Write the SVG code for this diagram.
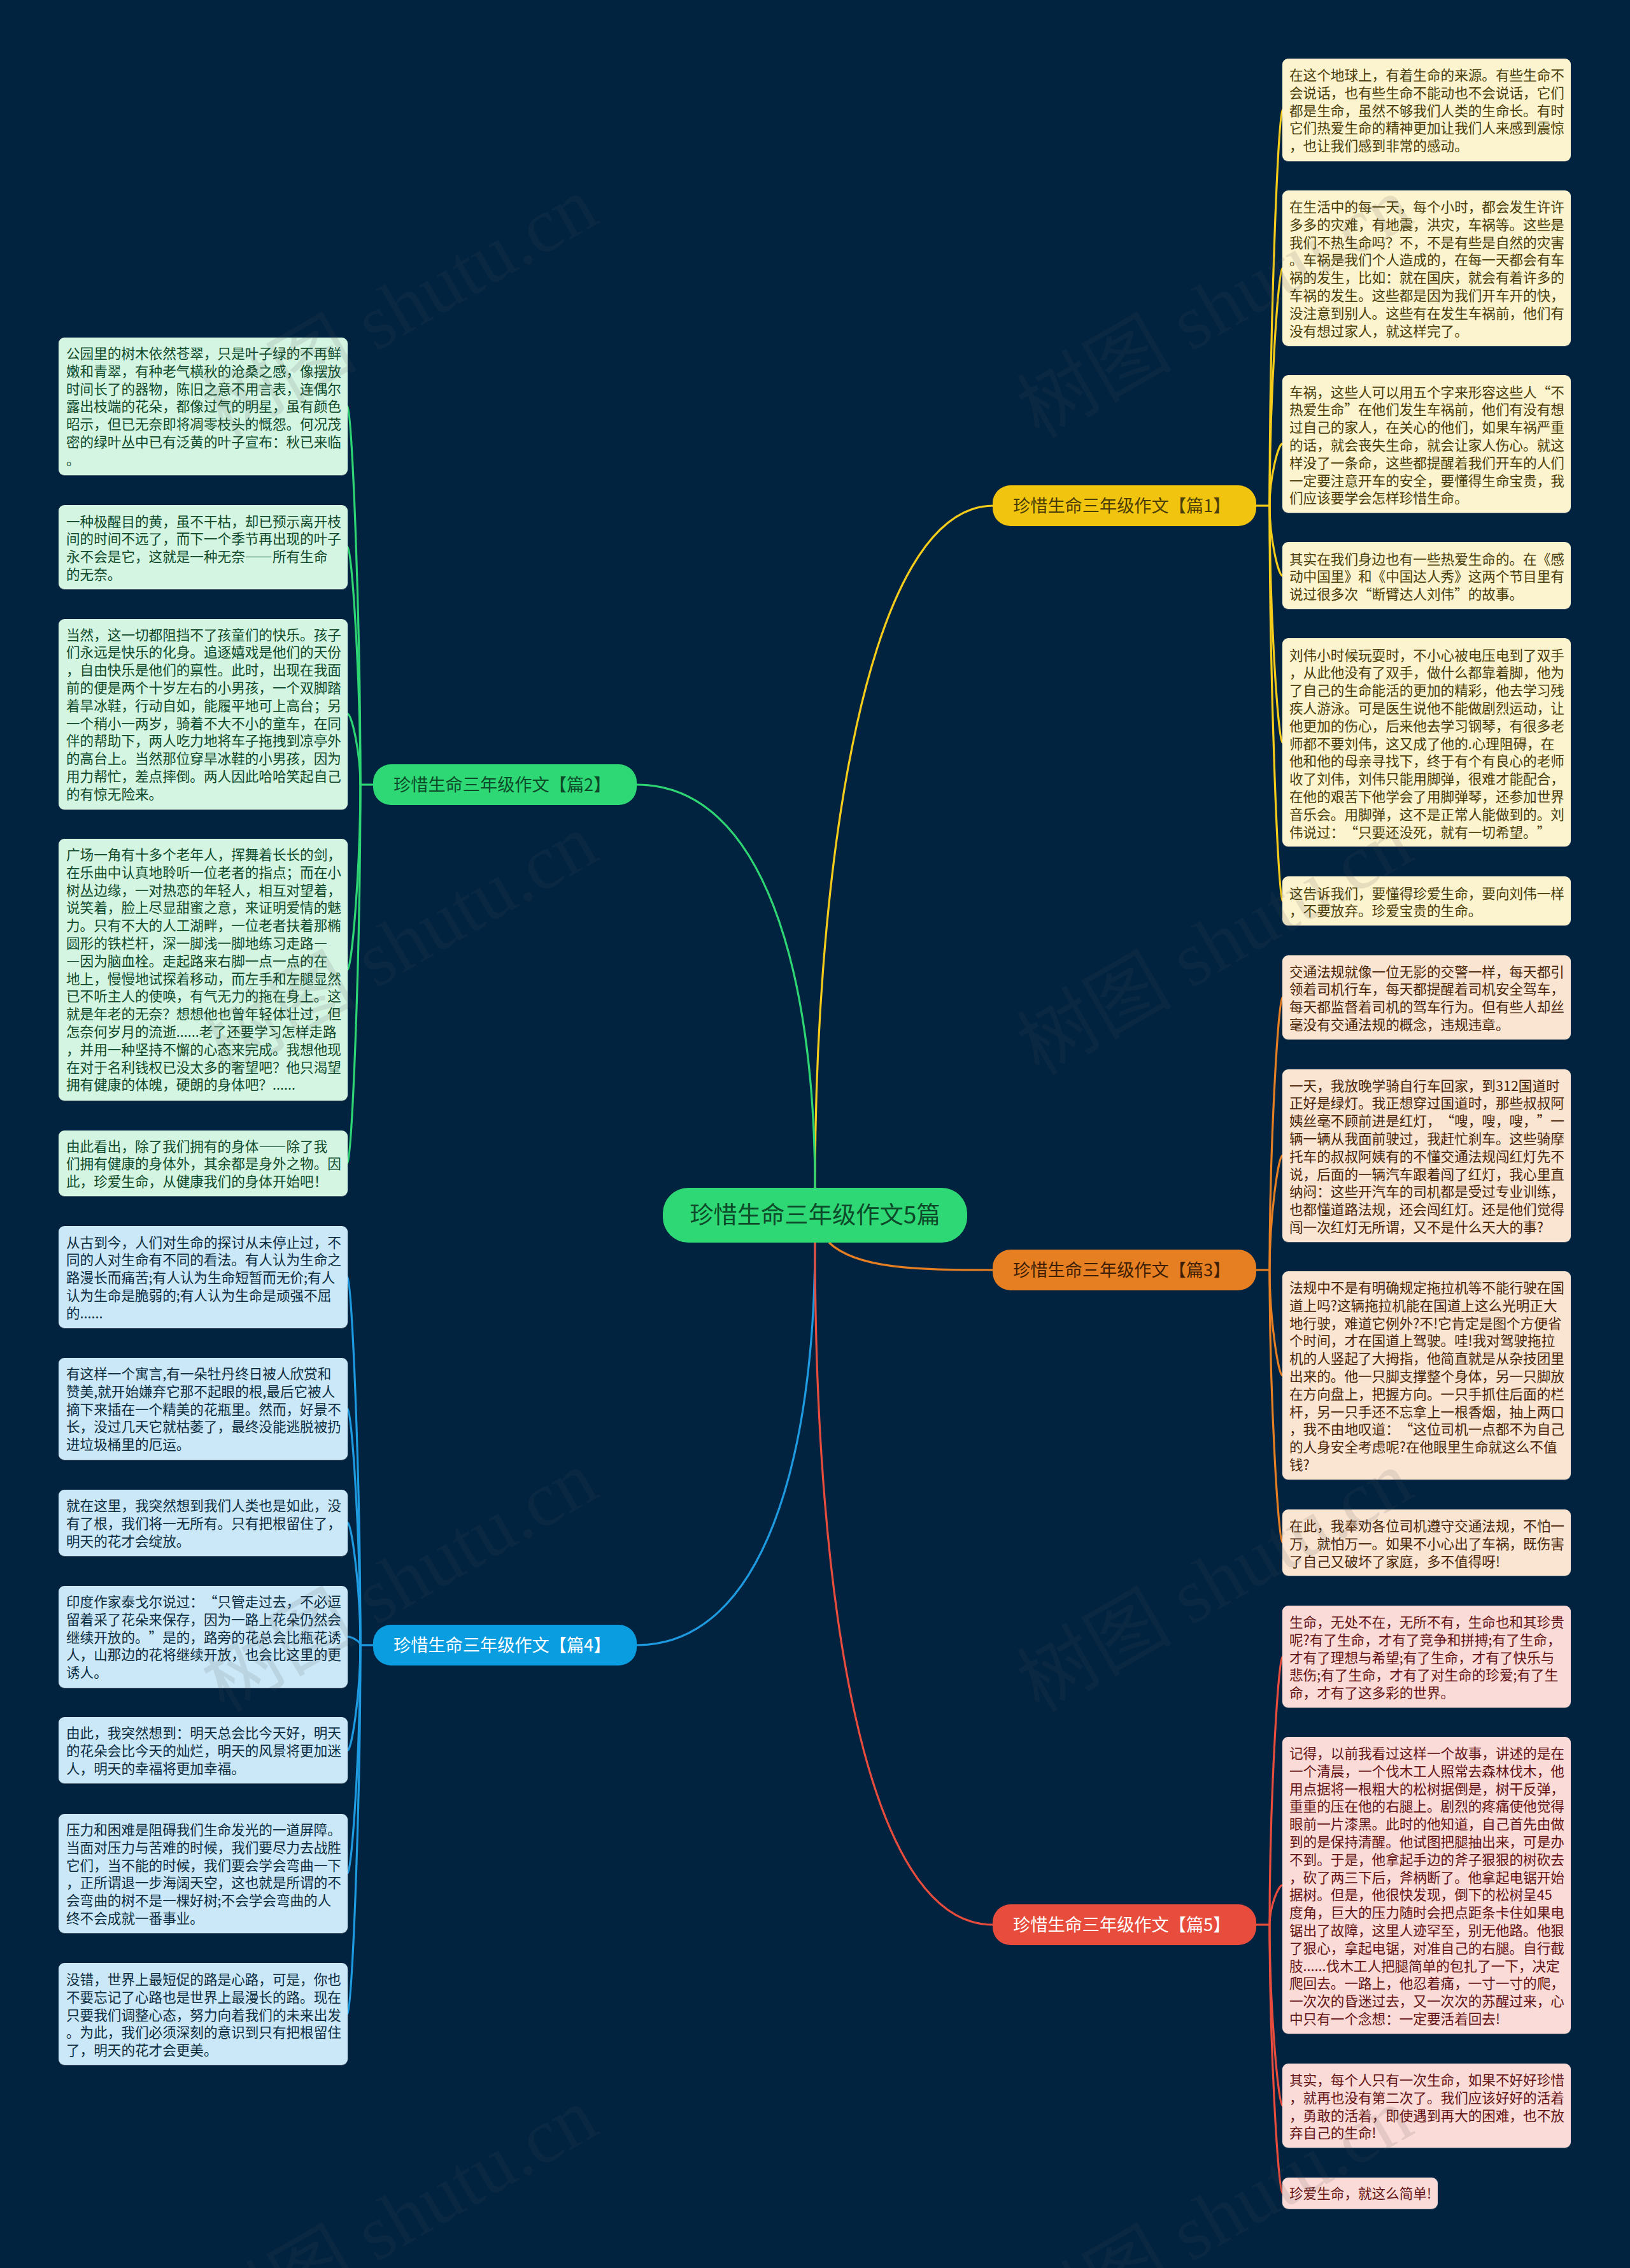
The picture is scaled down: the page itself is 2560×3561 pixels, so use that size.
<svg xmlns="http://www.w3.org/2000/svg" width="2560" height="3561" viewBox="0 0 2560 3561" lang="zh-CN">
<style>
text{font-family:"Noto Sans CJK SC","Noto Sans",sans-serif;text-spacing-trim:space-all;text-autospace:no-autospace}
.leaf text{font-size:21.6px}
.leaf rect{filter:drop-shadow(0 1.5px 0 rgba(140,140,140,.55))}
.y rect{fill:#fcf3cf}.y text{fill:#4a3d08}
.o rect{fill:#fae5d3}.o text{fill:#4a2508}
.g rect{fill:#d5f5e3}.g text{fill:#0f4a2a}
.b rect{fill:#cbe8f8}.b text{fill:#0c2c40}
.r rect{fill:#fadbd8}.r text{fill:#641414}
.branch text{font-size:27.2px}
.con path{fill:none;stroke-width:3.2}
.wm text{font-family:"Liberation Serif","Noto Sans CJK SC",serif;font-size:122px;fill:#505050;fill-opacity:.13}
</style>
<rect id="background" width="2560" height="3561" fill="#012340"/>
<g id="connectors" class="con">
<g stroke="#f5cc1a">
<path d="M1280 1865C1280 1362 1360 794 1560 794"/>
<path d="M1973 794H1994"/>
<path d="M1994 794C1994 502 2008 172.7 2014 172.7"/>
<path d="M1994 794C1994 619 2008 421 2014 421"/>
<path d="M1994 794C1994 748 2008 696.7 2014 696.7"/>
<path d="M1994 794C1994 846 2008 903.9 2014 903.9"/>
<path d="M1994 794C1994 969 2008 1165.9 2014 1165.9"/>
<path d="M1994 794C1994 1086 2008 1414.5 2014 1414.5"/>
</g>
<g stroke="#2ed573">
<path d="M1280 1865C1280 1530 1200 1232 1000 1232"/>
<path d="M586 1232H566"/>
<path d="M566 1232C566 953 552 638 546 638"/>
<path d="M566 1232C566 1056 552 858.5 546 858.5"/>
<path d="M566 1232C566 1180 552 1121 546 1121"/>
<path d="M566 1232C566 1368.5 552 1522.4 546 1522.4"/>
<path d="M566 1232C566 1511 552 1826 546 1826"/>
</g>
<g stroke="#e67e22">
<path d="M1302 1951C1345 1992 1440 1994 1559 1994"/>
<path d="M1973 1994H1994"/>
<path d="M1994 1994C1994 1793 2008 1565.8 2014 1565.8"/>
<path d="M1994 1994C1994 1909.5 2008 1814.2 2014 1814.2"/>
<path d="M1994 1994C1994 2072 2008 2159.8 2014 2159.8"/>
<path d="M1994 1994C1994 2195 2008 2422 2014 2422"/>
</g>
<g stroke="#1e9be0">
<path d="M1280 1951C1280 2286 1200 2583 1000 2583"/>
<path d="M586 2583H566"/>
<path d="M566 2583C566 2311 552 2005 546 2005"/>
<path d="M566 2583C566 2408.5 552 2211.8 546 2211.8"/>
<path d="M566 2583C566 2493 552 2390.8 546 2390.8"/>
<path d="M566 2583C566 2577 552 2569.8 546 2569.8"/>
<path d="M566 2583C566 2661 552 2748.4 546 2748.4"/>
<path d="M566 2583C566 2751.5 552 2941.5 546 2941.5"/>
<path d="M566 2583C566 2855 552 3162 546 3162"/>
</g>
<g stroke="#e74c3c">
<path d="M1280 1951C1280 2519 1359 3022 1559 3022"/>
<path d="M1973 3022H1994"/>
<path d="M1994 3022C1994 2824 2008 2601 2014 2601"/>
<path d="M1994 3022C1994 2993 2008 2960 2014 2960"/>
<path d="M1994 3022C1994 3155 2008 3306 2014 3306"/>
<path d="M1994 3022C1994 3220 2008 3443.5 2014 3443.5"/>
</g>
</g>
<g id="center"><rect x="1041" y="1865" width="478" height="86" rx="40" fill="#2ed975"/><text x="1280" y="1921" text-anchor="middle" font-size="37.3" fill="#0d4a2a">珍惜生命三年级作文5篇</text></g>
<g id="branch1" class="branch"><rect x="1559" y="762" width="414" height="64" rx="28" fill="#f1c40f"/><text x="1591" y="804" fill="#4a3d08">珍惜生命三年级作文【篇1】</text></g>
<g id="branch2" class="branch"><rect x="586" y="1200" width="414" height="64" rx="28" fill="#2ed975"/><text x="618" y="1242" fill="#0d4a2a">珍惜生命三年级作文【篇2】</text></g>
<g id="branch3" class="branch"><rect x="1559" y="1962" width="414" height="64" rx="28" fill="#e67e22"/><text x="1591" y="2004" fill="#3d1e05">珍惜生命三年级作文【篇3】</text></g>
<g id="branch4" class="branch"><rect x="586" y="2551" width="414" height="64" rx="28" fill="#0a9de0"/><text x="618" y="2593" fill="#ffffff">珍惜生命三年级作文【篇4】</text></g>
<g id="branch5" class="branch"><rect x="1559" y="2990" width="414" height="64" rx="28" fill="#e74c3c"/><text x="1591" y="3032" fill="#ffffff">珍惜生命三年级作文【篇5】</text></g>

<g id="n1" class="leaf y"><rect x="2014" y="92" width="453" height="161" rx="9"/><text y="126"><tspan x="2025">在这个地球上，有着生命的来源。有些生命不</tspan><tspan x="2025" dy="27.8">会说话，也有些生命不能动也不会说话，它们</tspan><tspan x="2025" dy="27.8">都是生命，虽然不够我们人类的生命长。有时</tspan><tspan x="2025" dy="27.8">它们热爱生命的精神更加让我们人来感到震惊</tspan><tspan x="2025" dy="27.8">，也让我们感到非常的感动。</tspan></text></g>
<g id="n2" class="leaf y"><rect x="2014" y="299" width="453" height="244" rx="9"/><text y="333"><tspan x="2025">在生活中的每一天，每个小时，都会发生许许</tspan><tspan x="2025" dy="27.8">多多的灾难，有地震，洪灾，车祸等。这些是</tspan><tspan x="2025" dy="27.8">我们不热生命吗？不，不是有些是自然的灾害</tspan><tspan x="2025" dy="27.8">。车祸是我们个人造成的，在每一天都会有车</tspan><tspan x="2025" dy="27.8">祸的发生，比如：就在国庆，就会有着许多的</tspan><tspan x="2025" dy="27.8">车祸的发生。这些都是因为我们开车开的快，</tspan><tspan x="2025" dy="27.8">没注意到别人。这些有在发生车祸前，他们有</tspan><tspan x="2025" dy="27.8">没有想过家人，就这样完了。</tspan></text></g>
<g id="n3" class="leaf y"><rect x="2014" y="589" width="453" height="216" rx="9"/><text y="623.5"><tspan x="2025">车祸，这些人可以用五个字来形容这些人“不</tspan><tspan x="2025" dy="27.8">热爱生命”在他们发生车祸前，他们有没有想</tspan><tspan x="2025" dy="27.8">过自己的家人，在关心的他们，如果车祸严重</tspan><tspan x="2025" dy="27.8">的话，就会丧失生命，就会让家人伤心。就这</tspan><tspan x="2025" dy="27.8">样没了一条命，这些都提醒着我们开车的人们</tspan><tspan x="2025" dy="27.8">一定要注意开车的安全，要懂得生命宝贵，我</tspan><tspan x="2025" dy="27.8">们应该要学会怎样珍惜生命。</tspan></text></g>
<g id="n4" class="leaf y"><rect x="2014" y="851" width="453" height="105" rx="9"/><text y="885.5"><tspan x="2025">其实在我们身边也有一些热爱生命的。在《感</tspan><tspan x="2025" dy="27.8">动中国里》和《中国达人秀》这两个节目里有</tspan><tspan x="2025" dy="27.8">说过很多次“断臂达人刘伟”的故事。</tspan></text></g>
<g id="n5" class="leaf y"><rect x="2014" y="1002" width="453" height="327" rx="9"/><text y="1036.5"><tspan x="2025">刘伟小时候玩耍时，不小心被电压电到了双手</tspan><tspan x="2025" dy="27.8">，从此他没有了双手，做什么都靠着脚，他为</tspan><tspan x="2025" dy="27.8">了自己的生命能活的更加的精彩，他去学习残</tspan><tspan x="2025" dy="27.8">疾人游泳。可是医生说他不能做剧烈运动，让</tspan><tspan x="2025" dy="27.8">他更加的伤心，后来他去学习钢琴，有很多老</tspan><tspan x="2025" dy="27.8">师都不要刘伟，这又成了他的.心理阻碍，在</tspan><tspan x="2025" dy="27.8">他和他的母亲寻找下，终于有个有良心的老师</tspan><tspan x="2025" dy="27.8">收了刘伟，刘伟只能用脚弹，很难才能配合，</tspan><tspan x="2025" dy="27.8">在他的艰苦下他学会了用脚弹琴，还参加世界</tspan><tspan x="2025" dy="27.8">音乐会。用脚弹，这不是正常人能做到的。刘</tspan><tspan x="2025" dy="27.8">伟说过：“只要还没死，就有一切希望。”</tspan></text></g>
<g id="n6" class="leaf y"><rect x="2014" y="1376" width="453" height="77" rx="9"/><text y="1410.5"><tspan x="2025">这告诉我们，要懂得珍爱生命，要向刘伟一样</tspan><tspan x="2025" dy="27.8">，不要放弃。珍爱宝贵的生命。</tspan></text></g>

<g id="n7" class="leaf o"><rect x="2014" y="1500" width="453" height="132" rx="9"/><text y="1533.5"><tspan x="2025">交通法规就像一位无影的交警一样，每天都引</tspan><tspan x="2025" dy="27.8">领着司机行车，每天都提醒着司机安全驾车，</tspan><tspan x="2025" dy="27.8">每天都监督着司机的驾车行为。但有些人却丝</tspan><tspan x="2025" dy="27.8">毫没有交通法规的概念，违规违章。</tspan></text></g>
<g id="n8" class="leaf o"><rect x="2014" y="1679" width="453" height="271" rx="9"/><text y="1712.5"><tspan x="2025">一天，我放晚学骑自行车回家，到312国道时</tspan><tspan x="2025" dy="27.8">正好是绿灯。我正想穿过国道时，那些叔叔阿</tspan><tspan x="2025" dy="27.8">姨丝毫不顾前进是红灯，“嗖，嗖，嗖，”一</tspan><tspan x="2025" dy="27.8">辆一辆从我面前驶过，我赶忙刹车。这些骑摩</tspan><tspan x="2025" dy="27.8">托车的叔叔阿姨有的不懂交通法规闯红灯先不</tspan><tspan x="2025" dy="27.8">说，后面的一辆汽车跟着闯了红灯，我心里直</tspan><tspan x="2025" dy="27.8">纳闷：这些开汽车的司机都是受过专业训练，</tspan><tspan x="2025" dy="27.8">也都懂道路法规，还会闯红灯。还是他们觉得</tspan><tspan x="2025" dy="27.8">闯一次红灯无所谓，又不是什么天大的事?</tspan></text></g>
<g id="n9" class="leaf o"><rect x="2014" y="1996" width="453" height="327" rx="9"/><text y="2030"><tspan x="2025">法规中不是有明确规定拖拉机等不能行驶在国</tspan><tspan x="2025" dy="27.8">道上吗?这辆拖拉机能在国道上这么光明正大</tspan><tspan x="2025" dy="27.8">地行驶，难道它例外?不!它肯定是图个方便省</tspan><tspan x="2025" dy="27.8">个时间，才在国道上驾驶。哇!我对驾驶拖拉</tspan><tspan x="2025" dy="27.8">机的人竖起了大拇指，他简直就是从杂技团里</tspan><tspan x="2025" dy="27.8">出来的。他一只脚支撑整个身体，另一只脚放</tspan><tspan x="2025" dy="27.8">在方向盘上，把握方向。一只手抓住后面的栏</tspan><tspan x="2025" dy="27.8">杆，另一只手还不忘拿上一根香烟，抽上两口</tspan><tspan x="2025" dy="27.8">，我不由地叹道：“这位司机一点都不为自己</tspan><tspan x="2025" dy="27.8">的人身安全考虑呢?在他眼里生命就这么不值</tspan><tspan x="2025" dy="27.8">钱?</tspan></text></g>
<g id="n10" class="leaf o"><rect x="2014" y="2370" width="453" height="104" rx="9"/><text y="2404"><tspan x="2025">在此，我奉劝各位司机遵守交通法规，不怕一</tspan><tspan x="2025" dy="27.8">万，就怕万一。如果不小心出了车祸，既伤害</tspan><tspan x="2025" dy="27.8">了自己又破坏了家庭，多不值得呀!</tspan></text></g>

<g id="n11" class="leaf r"><rect x="2014" y="2521" width="453" height="160" rx="9"/><text y="2555"><tspan x="2025">生命，无处不在，无所不有，生命也和其珍贵</tspan><tspan x="2025" dy="27.8">呢?有了生命，才有了竞争和拼搏;有了生命，</tspan><tspan x="2025" dy="27.8">才有了理想与希望;有了生命，才有了快乐与</tspan><tspan x="2025" dy="27.8">悲伤;有了生命，才有了对生命的珍爱;有了生</tspan><tspan x="2025" dy="27.8">命，才有了这多彩的世界。</tspan></text></g>
<g id="n12" class="leaf r"><rect x="2014" y="2727" width="453" height="466" rx="9"/><text y="2761"><tspan x="2025">记得，以前我看过这样一个故事，讲述的是在</tspan><tspan x="2025" dy="27.8">一个清晨，一个伐木工人照常去森林伐木，他</tspan><tspan x="2025" dy="27.8">用点据将一根粗大的松树据倒是，树干反弹，</tspan><tspan x="2025" dy="27.8">重重的压在他的右腿上。剧烈的疼痛使他觉得</tspan><tspan x="2025" dy="27.8">眼前一片漆黑。此时的他知道，自己首先由做</tspan><tspan x="2025" dy="27.8">到的是保持清醒。他试图把腿抽出来，可是办</tspan><tspan x="2025" dy="27.8">不到。于是，他拿起手边的斧子狠狠的树砍去</tspan><tspan x="2025" dy="27.8">，砍了两三下后，斧柄断了。他拿起电锯开始</tspan><tspan x="2025" dy="27.8">据树。但是，他很快发现，倒下的松树呈45</tspan><tspan x="2025" dy="27.8">度角，巨大的压力随时会把点距条卡住如果电</tspan><tspan x="2025" dy="27.8">锯出了故障，这里人迹罕至，别无他路。他狠</tspan><tspan x="2025" dy="27.8">了狠心，拿起电锯，对准自己的右腿。自行截</tspan><tspan x="2025" dy="27.8">肢......伐木工人把腿简单的包扎了一下，决定</tspan><tspan x="2025" dy="27.8">爬回去。一路上，他忍着痛，一寸一寸的爬，</tspan><tspan x="2025" dy="27.8">一次次的昏迷过去，又一次次的苏醒过来，心</tspan><tspan x="2025" dy="27.8">中只有一个念想：一定要活着回去!</tspan></text></g>
<g id="n13" class="leaf r"><rect x="2014" y="3240" width="453" height="132" rx="9"/><text y="3274"><tspan x="2025">其实，每个人只有一次生命，如果不好好珍惜</tspan><tspan x="2025" dy="27.8">，就再也没有第二次了。我们应该好好的活着</tspan><tspan x="2025" dy="27.8">，勇敢的活着，即使遇到再大的困难，也不放</tspan><tspan x="2025" dy="27.8">弃自己的生命!</tspan></text></g>
<g id="n14" class="leaf r"><rect x="2014" y="3419" width="244" height="49" rx="9"/><text y="3452"><tspan x="2025">珍爱生命，就这么简单!</tspan></text></g>

<g id="l1" class="leaf g"><rect x="92" y="530" width="454" height="216" rx="9"/><text y="563"><tspan x="104">公园里的树木依然苍翠，只是叶子绿的不再鲜</tspan><tspan x="104" dy="27.8">嫩和青翠，有种老气横秋的沧桑之感，像摆放</tspan><tspan x="104" dy="27.8">时间长了的器物，陈旧之意不用言表，连偶尔</tspan><tspan x="104" dy="27.8">露出枝端的花朵，都像过气的明星，虽有颜色</tspan><tspan x="104" dy="27.8">昭示，但已无奈即将凋零枝头的慨怨。何况茂</tspan><tspan x="104" dy="27.8">密的绿叶丛中已有泛黄的叶子宣布：秋已来临</tspan><tspan x="104" dy="27.8">。</tspan></text></g>
<g id="l2" class="leaf g"><rect x="92" y="793" width="454" height="132" rx="9"/><text y="826.5"><tspan x="104">一种极醒目的黄，虽不干枯，却已预示离开枝</tspan><tspan x="104" dy="27.8">间的时间不远了，而下一个季节再出现的叶子</tspan><tspan x="104" dy="27.8">永不会是它，这就是一种无奈——所有生命</tspan><tspan x="104" dy="27.8">的无奈。</tspan></text></g>
<g id="l3" class="leaf g"><rect x="92" y="972" width="454" height="299" rx="9"/><text y="1004.5"><tspan x="104">当然，这一切都阻挡不了孩童们的快乐。孩子</tspan><tspan x="104" dy="27.8">们永远是快乐的化身。追逐嬉戏是他们的天份</tspan><tspan x="104" dy="27.8">，自由快乐是他们的禀性。此时，出现在我面</tspan><tspan x="104" dy="27.8">前的便是两个十岁左右的小男孩，一个双脚踏</tspan><tspan x="104" dy="27.8">着旱冰鞋，行动自如，能履平地可上高台；另</tspan><tspan x="104" dy="27.8">一个稍小一两岁，骑着不大不小的童车，在同</tspan><tspan x="104" dy="27.8">伴的帮助下，两人吃力地将车子拖拽到凉亭外</tspan><tspan x="104" dy="27.8">的高台上。当然那位穿旱冰鞋的小男孩，因为</tspan><tspan x="104" dy="27.8">用力帮忙，差点摔倒。两人因此哈哈笑起自己</tspan><tspan x="104" dy="27.8">的有惊无险来。</tspan></text></g>
<g id="l4" class="leaf g"><rect x="92" y="1317" width="454" height="411" rx="9"/><text y="1350"><tspan x="104">广场一角有十多个老年人，挥舞着长长的剑，</tspan><tspan x="104" dy="27.8">在乐曲中认真地聆听一位老者的指点；而在小</tspan><tspan x="104" dy="27.8">树丛边缘，一对热恋的年轻人，相互对望着，</tspan><tspan x="104" dy="27.8">说笑着，脸上尽显甜蜜之意，来证明爱情的魅</tspan><tspan x="104" dy="27.8">力。只有不大的人工湖畔，一位老者扶着那椭</tspan><tspan x="104" dy="27.8">圆形的铁栏杆，深一脚浅一脚地练习走路—</tspan><tspan x="104" dy="27.8">—因为脑血栓。走起路来右脚一点一点的在</tspan><tspan x="104" dy="27.8">地上，慢慢地试探着移动，而左手和左腿显然</tspan><tspan x="104" dy="27.8">已不听主人的使唤，有气无力的拖在身上。这</tspan><tspan x="104" dy="27.8">就是年老的无奈？想想他也曾年轻体壮过，但</tspan><tspan x="104" dy="27.8">怎奈何岁月的流逝......老了还要学习怎样走路</tspan><tspan x="104" dy="27.8">，并用一种坚持不懈的心态来完成。我想他现</tspan><tspan x="104" dy="27.8">在对于名利钱权已没太多的奢望吧？他只渴望</tspan><tspan x="104" dy="27.8">拥有健康的体魄，硬朗的身体吧？......</tspan></text></g>
<g id="l5" class="leaf g"><rect x="92" y="1775" width="454" height="103" rx="9"/><text y="1807.5"><tspan x="104">由此看出，除了我们拥有的身体——除了我</tspan><tspan x="104" dy="27.8">们拥有健康的身体外，其余都是身外之物。因</tspan><tspan x="104" dy="27.8">此，珍爱生命，从健康我们的身体开始吧！</tspan></text></g>

<g id="b1" class="leaf b"><rect x="92" y="1925" width="454" height="160" rx="9"/><text y="1958.5"><tspan x="104">从古到今，人们对生命的探讨从未停止过，不</tspan><tspan x="104" dy="27.8">同的人对生命有不同的看法。有人认为生命之</tspan><tspan x="104" dy="27.8">路漫长而痛苦;有人认为生命短暂而无价;有人</tspan><tspan x="104" dy="27.8">认为生命是脆弱的;有人认为生命是顽强不屈</tspan><tspan x="104" dy="27.8">的......</tspan></text></g>
<g id="b2" class="leaf b"><rect x="92" y="2132" width="454" height="160" rx="9"/><text y="2165"><tspan x="104">有这样一个寓言,有一朵牡丹终日被人欣赏和</tspan><tspan x="104" dy="27.8">赞美,就开始嫌弃它那不起眼的根,最后它被人</tspan><tspan x="104" dy="27.8">摘下来插在一个精美的花瓶里。然而，好景不</tspan><tspan x="104" dy="27.8">长，没过几天它就枯萎了，最终没能逃脱被扔</tspan><tspan x="104" dy="27.8">进垃圾桶里的厄运。</tspan></text></g>
<g id="b3" class="leaf b"><rect x="92" y="2339" width="454" height="104" rx="9"/><text y="2372"><tspan x="104">就在这里，我突然想到我们人类也是如此，没</tspan><tspan x="104" dy="27.8">有了根，我们将一无所有。只有把根留住了，</tspan><tspan x="104" dy="27.8">明天的花才会绽放。</tspan></text></g>
<g id="b4" class="leaf b"><rect x="92" y="2490" width="454" height="160" rx="9"/><text y="2523"><tspan x="104">印度作家泰戈尔说过：“只管走过去，不必逗</tspan><tspan x="104" dy="27.8">留着采了花朵来保存，因为一路上花朵仍然会</tspan><tspan x="104" dy="27.8">继续开放的。”是的，路旁的花总会比瓶花诱</tspan><tspan x="104" dy="27.8">人，山那边的花将继续开放，也会比这里的更</tspan><tspan x="104" dy="27.8">诱人。</tspan></text></g>
<g id="b5" class="leaf b"><rect x="92" y="2696" width="454" height="104" rx="9"/><text y="2729"><tspan x="104">由此，我突然想到：明天总会比今天好，明天</tspan><tspan x="104" dy="27.8">的花朵会比今天的灿烂，明天的风景将更加迷</tspan><tspan x="104" dy="27.8">人，明天的幸福将更加幸福。</tspan></text></g>
<g id="b6" class="leaf b"><rect x="92" y="2848" width="454" height="187" rx="9"/><text y="2881"><tspan x="104">压力和困难是阻碍我们生命发光的一道屏障。</tspan><tspan x="104" dy="27.8">当面对压力与苦难的时候，我们要尽力去战胜</tspan><tspan x="104" dy="27.8">它们，当不能的时候，我们要会学会弯曲一下</tspan><tspan x="104" dy="27.8">，正所谓退一步海阔天空，这也就是所谓的不</tspan><tspan x="104" dy="27.8">会弯曲的树不是一棵好树;不会学会弯曲的人</tspan><tspan x="104" dy="27.8">终不会成就一番事业。</tspan></text></g>
<g id="b7" class="leaf b"><rect x="92" y="3082" width="454" height="160" rx="9"/><text y="3116"><tspan x="104">没错，世界上最短促的路是心路，可是，你也</tspan><tspan x="104" dy="27.8">不要忘记了心路也是世界上最漫长的路。现在</tspan><tspan x="104" dy="27.8">只要我们调整心态，努力向着我们的未来出发</tspan><tspan x="104" dy="27.8">。为此，我们必须深刻的意识到只有把根留住</tspan><tspan x="104" dy="27.8">了，明天的花才会更美。</tspan></text></g>

<g id="watermarks" class="wm">
<text transform="translate(352 690) rotate(-30)">树图 shutu.cn</text>
<text transform="translate(352 1690) rotate(-30)">树图 shutu.cn</text>
<text transform="translate(352 2690) rotate(-30)">树图 shutu.cn</text>
<text transform="translate(352 3690) rotate(-30)">树图 shutu.cn</text>
<text transform="translate(1632 690) rotate(-30)">树图 shutu.cn</text>
<text transform="translate(1632 1690) rotate(-30)">树图 shutu.cn</text>
<text transform="translate(1632 2690) rotate(-30)">树图 shutu.cn</text>
<text transform="translate(1632 3690) rotate(-30)">树图 shutu.cn</text>
</g>
</svg>
